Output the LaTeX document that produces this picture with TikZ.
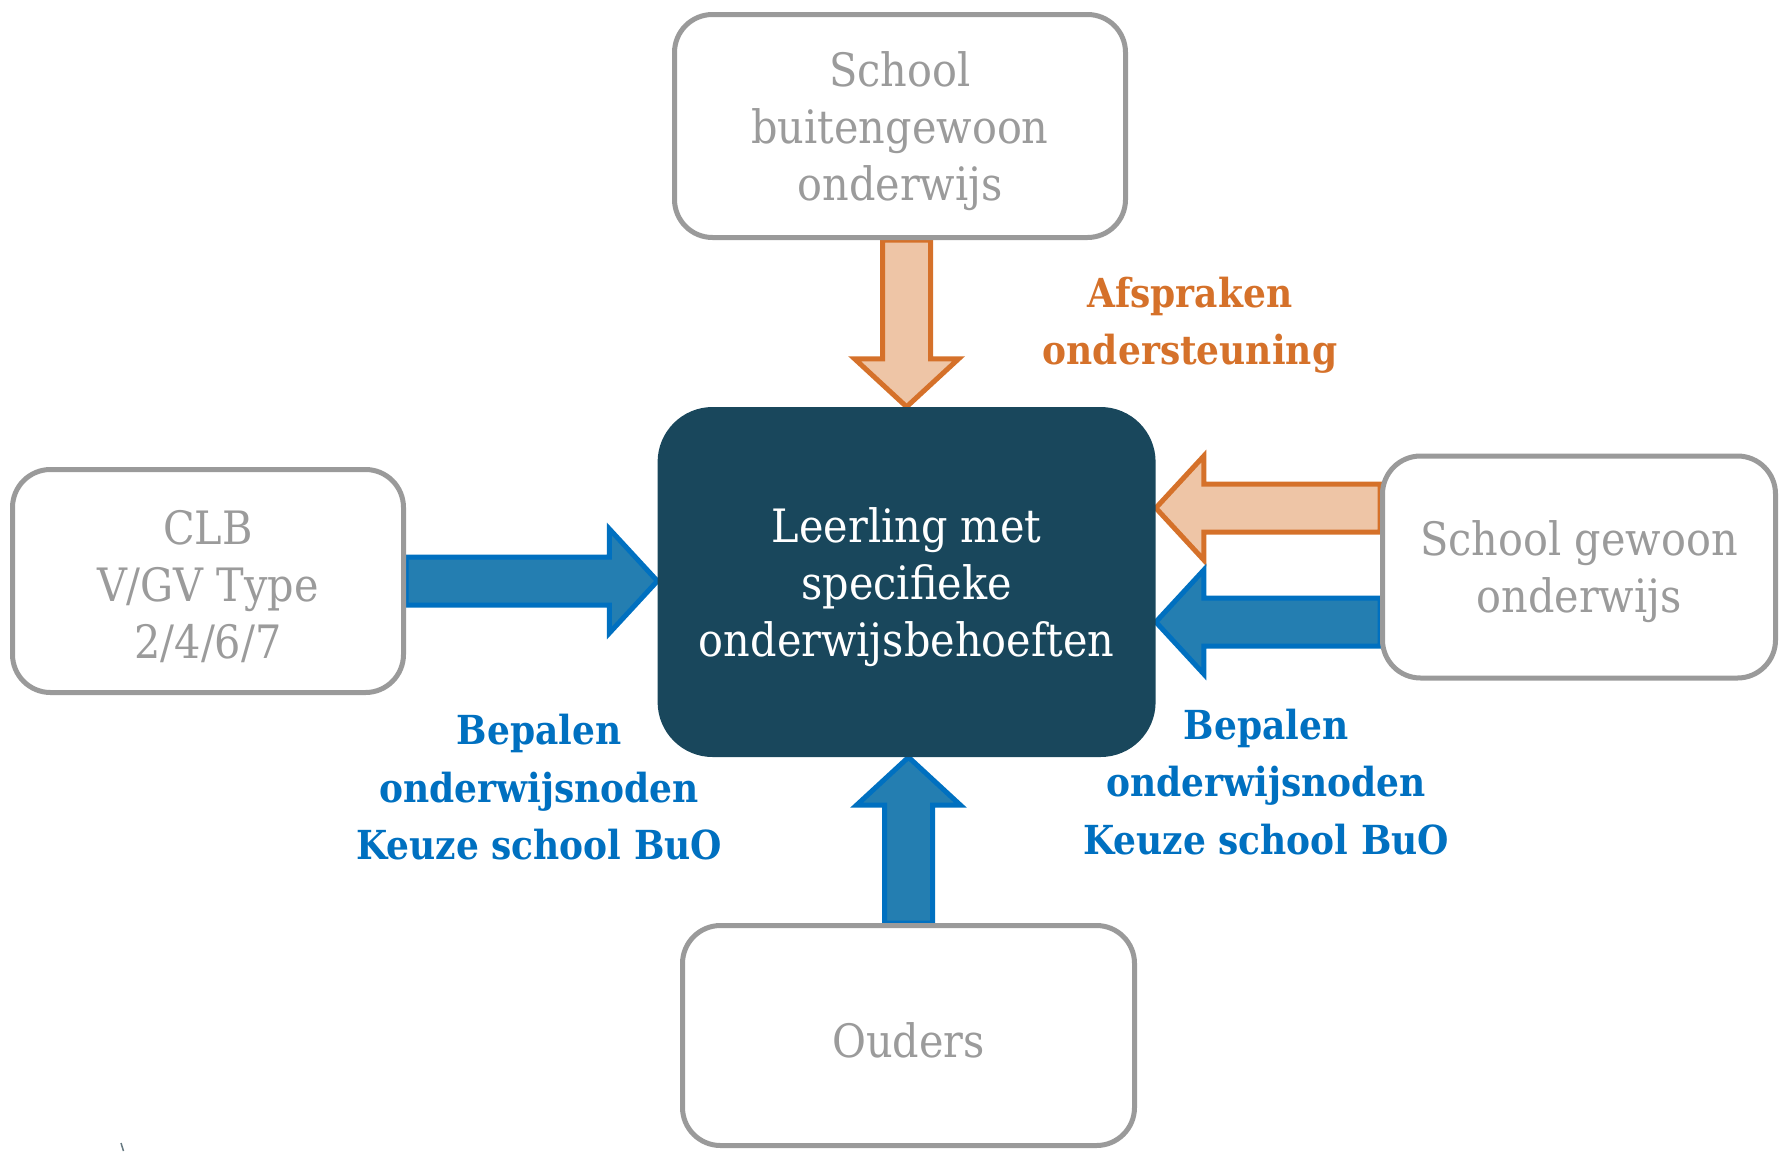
\documentclass[tikz,border=0pt]{standalone}
\usepackage{fontspec}
\setmainfont{DejaVu Serif}[FakeStretch=0.9]
\usetikzlibrary{calc,backgrounds}
\definecolor{boxgray}{HTML}{9A9A9A}
\definecolor{txtgray}{HTML}{9B9B9B}
\definecolor{navy}{HTML}{19475C}
\definecolor{orline}{HTML}{D5712A}
\definecolor{orfill}{HTML}{EEC5A6}
\definecolor{blline}{HTML}{0070C0}
\definecolor{blfill}{HTML}{247EB1}
\newcommand\tup{\rule{0pt}{45pt}}
\newcommand\blockarrow[3]{%
  \coordinate (ba-c) at ($(#3)!48pt!(#2)$);
  \draw[#1] ($(#2)!24pt!90:(#3)$) -- ($(ba-c)!24pt!-90:(#2)$) -- ($(ba-c)!52pt!-90:(#2)$) -- (#3)
    -- ($(ba-c)!52pt!90:(#2)$) -- ($(ba-c)!24pt!90:(#2)$) -- ($(#2)!24pt!-90:(#3)$) -- cycle;}
\tikzset{
  gbox/.style={draw=boxgray, line width=5pt, rounded corners=38pt, fill=white, text=txtgray,
    align=center, font=\fontsize{46}{57}\selectfont, inner sep=0pt},
  mainbox/.style={fill=navy, rounded corners=55pt, text=white, align=center,
    font=\fontsize{46}{57}\selectfont, inner sep=0pt},
  lbl/.style={align=center, font=\fontsize{40}{57.5}\selectfont\bfseries, inner sep=0pt},
  orarrow/.style={draw=orline, fill=orfill, line width=5pt, line join=miter},
  blarrow/.style={draw=blline, fill=blfill, line width=5pt, line join=miter},
}
\begin{document}
\begin{tikzpicture}[x=1pt,y=-1pt]
\useasboundingbox (0,0) rectangle (1787,1151);
\node[mainbox, minimum width=498pt, minimum height=350pt] (center) at (906.6,582)
  {\tup Leerling met\\specifieke\\onderwijsbehoeften};
\node[gbox, minimum width=451pt, minimum height=223pt] (top) at (900,126) {\tup School\\buitengewoon\\onderwijs};
\node[gbox, minimum width=391pt, minimum height=223pt] (clb) at (208,581) {\tup CLB\\V/GV Type\\2/4/6/7};
\node[gbox, minimum width=393pt, minimum height=222pt] (right) at (1579,567) {\tup School gewoon\\onderwijs};
\node[gbox, minimum width=452pt, minimum height=220pt] (bot) at (908.5,1035.5) {\tup Ouders};
\coordinate (r-or) at ($(right.west)+(0,-59)$);
\coordinate (r-bl) at ($(right.west)+(0,55)$);
\begin{scope}[on background layer]
\blockarrow{orarrow}{center.north |- top.south}{center.north}
\blockarrow{orarrow}{r-or}{center.east |- r-or}
\blockarrow{blarrow}{r-bl}{center.east |- r-bl}
\blockarrow{blarrow}{clb.east}{center.west |- clb.east}
\blockarrow{blarrow}{bot.north}{bot.north |- center.south}
\end{scope}
\node[lbl, text=orline] (afs) at (1190,325) {Afspraken\\ondersteuning};
\node[lbl, text=blline] (lblr) at (1266,782) {Bepalen\\onderwijsnoden\\Keuze school BuO};
\node[lbl, text=blline] (lbll) at (539,787.5) {Bepalen\\onderwijsnoden\\Keuze school BuO};
\draw[color=boxgray!60!navy, line width=1.5pt] (121,1143) -- (123.5,1151);
\end{tikzpicture}
\end{document}
